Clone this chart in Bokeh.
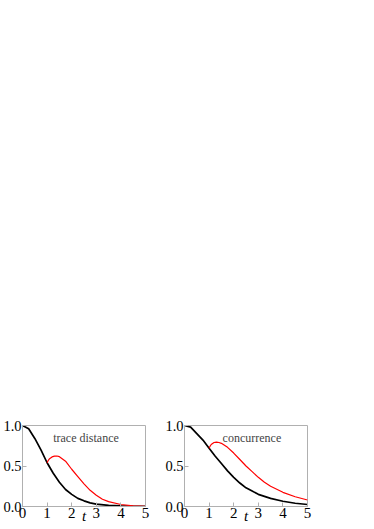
from bokeh.plotting import figure
from bokeh.layouts import row
from bokeh.models import Label, FixedTicker, NumeralTickFormatter
from bokeh.embed import file_html
from bokeh.resources import INLINE

# ---- data ----
t_black = [0, 0.25, 0.5, 0.75, 1.0, 1.25, 1.5, 1.75, 2.0, 2.25, 2.5, 2.75, 3.0, 3.5, 4.0, 4.5, 5.0]
trace_black = [1.0, 0.96, 0.84, 0.70, 0.54, 0.41, 0.30, 0.21, 0.15, 0.10, 0.07, 0.045, 0.03, 0.014, 0.007, 0.003, 0.001]
conc_black = [1.0, 0.98, 0.90, 0.82, 0.72, 0.62, 0.53, 0.44, 0.36, 0.29, 0.23, 0.19, 0.15, 0.10, 0.065, 0.04, 0.025]

t_red = [1.0, 1.05, 1.1, 1.2, 1.3, 1.4, 1.5, 1.75, 2.0, 2.25, 2.5, 2.75, 3.0, 3.25, 3.5, 4.0, 4.5, 5.0]
trace_red = [0.54, 0.57, 0.59, 0.612, 0.622, 0.623, 0.615, 0.56, 0.46, 0.37, 0.28, 0.2, 0.14, 0.09, 0.06, 0.025, 0.008, 0.002]
conc_red = [0.72, 0.75, 0.77, 0.79, 0.795, 0.79, 0.78, 0.73, 0.66, 0.58, 0.50, 0.43, 0.36, 0.30, 0.25, 0.175, 0.12, 0.08]

x_ticks = [0, 1, 2, 3, 4, 5]
y_ticks = [0, 0.5, 1.0]
titles = ["trace distance", "concurrence"]
title_x = [2.58, 2.74]

FONT = "Liberation Serif"
GRAY = "#b0b0b0"


def make(black, red, title, tx, right_border):
    p = figure(width=20 + 125 + right_border, height=529,
               x_range=(0, 5), y_range=(0, 1),
               output_backend="svg", toolbar_location=None,
               min_border_left=20, min_border_right=right_border,
               min_border_top=425, min_border_bottom=23)
    p.line(t_black, black, line_color="black", line_width=1.7)
    p.line(t_red, red, line_color="red", line_width=1.2)
    p.xgrid.visible = False
    p.ygrid.visible = False
    p.outline_line_color = GRAY
    for ax in (p.xaxis[0], p.yaxis[0]):
        ax.axis_line_color = GRAY
        ax.major_tick_line_color = GRAY
        ax.major_tick_in = 4
        ax.major_tick_out = 0
        ax.minor_tick_line_color = None
        ax.major_label_text_font = FONT
        ax.major_label_text_color = "black"
        ax.major_label_standoff = 1
    p.xaxis.major_label_text_font_size = "15px"
    p.yaxis.major_label_text_font_size = "14.5px"
    p.xaxis.ticker = FixedTicker(ticks=x_ticks)
    p.yaxis.ticker = FixedTicker(ticks=y_ticks)
    p.yaxis.formatter = NumeralTickFormatter(format="0.0")
    p.xaxis.axis_label = "t"
    p.xaxis.axis_label_text_font = FONT
    p.xaxis.axis_label_text_font_style = "italic"
    p.xaxis.axis_label_text_font_size = "15px"
    p.xaxis.axis_label_text_color = "black"
    p.xaxis.axis_label_standoff = -13
    p.add_layout(Label(x=tx, y=0.85, text=title, text_font=FONT,
                       text_font_size="12px", text_align="center",
                       text_baseline="alphabetic"))
    return p


p1 = make(trace_black, trace_red, titles[0], title_x[0], 17)
p2 = make(conc_black, conc_red, titles[1], title_x[1], 20)
layout = row(p1, p2)

open("out.html", "w").write(file_html(layout, INLINE))
